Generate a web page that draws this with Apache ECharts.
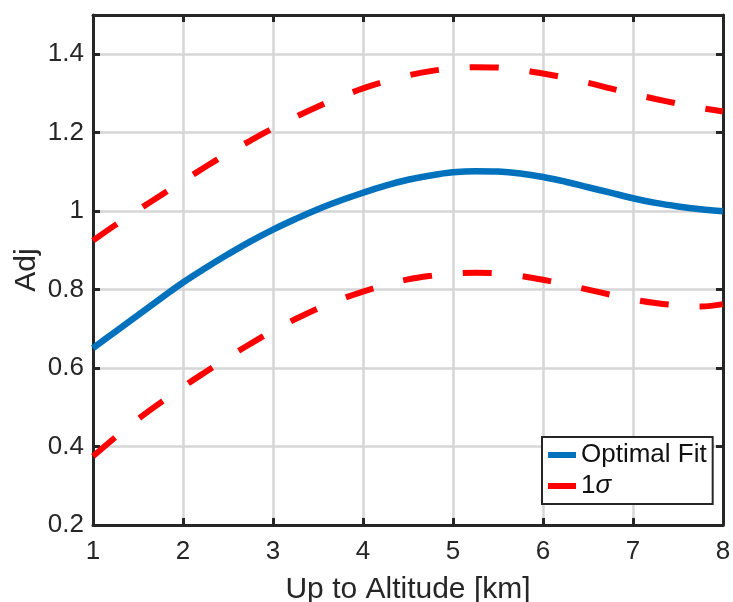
<!DOCTYPE html>
<html>
<head>
<meta charset="utf-8">
<script src="https://cdn.jsdelivr.net/npm/echarts@6/dist/echarts.min.js"></script>
<style>
  html, body { margin: 0; padding: 0; background: #fff; }
  #main { width: 733px; height: 602px; }
</style>
</head>
<body>
<div id="main"></div>
<script>
// altitude (km) and fitted values
var altitude = [1, 1.25, 1.5, 1.75, 2, 2.25, 2.5, 2.75, 3, 3.25, 3.5, 3.75, 4, 4.25, 4.5, 4.75,
                5, 5.25, 5.5, 5.75, 6, 6.25, 6.5, 6.75, 7, 7.25, 7.5, 7.75, 8];
var optimalFit = [0.651, 0.693, 0.735, 0.777, 0.818, 0.855, 0.89, 0.923, 0.953, 0.98, 1.005, 1.027, 1.047, 1.065, 1.08, 1.091,
                  1.099, 1.102, 1.101, 1.096, 1.087, 1.075, 1.061, 1.047, 1.033, 1.021, 1.012, 1.005, 1.0];
var upperSigma = [0.925, 0.965, 1.003, 1.04, 1.077, 1.113, 1.148, 1.18, 1.211, 1.24, 1.267, 1.291, 1.313, 1.331, 1.346, 1.357,
                  1.364, 1.367, 1.366, 1.36, 1.351, 1.34, 1.327, 1.313, 1.299, 1.286, 1.274, 1.263, 1.254];
var lowerSigma = [0.375, 0.424, 0.47, 0.512, 0.552, 0.59, 0.627, 0.662, 0.695, 0.725, 0.752, 0.775, 0.795, 0.812, 0.826, 0.835,
                  0.841, 0.843, 0.842, 0.835, 0.825, 0.813, 0.8, 0.787, 0.775, 0.766, 0.76, 0.757, 0.763];

var FONT = '"Liberation Sans", Arial, Helvetica, sans-serif';
var AXIS_COLOR = '#262626';

function pairs(ys) {
    var out = [];
    for (var i = 0; i < altitude.length; i++) {
        out.push([altitude[i], ys[i]]);
    }
    return out;
}

var boxAxis = {
    axisLine: { show: true, onZero: false, lineStyle: { color: AXIS_COLOR, width: 3 } },
    axisTick: { show: true, inside: true, length: 7, lineStyle: { color: AXIS_COLOR, width: 3 } },
    axisLabel: { show: false },
    splitLine: { show: false }
};

var myChart = echarts.init(document.getElementById('main'));
var option = {
    animation: false,
    backgroundColor: '#fff',
    grid: { left: 93, right: 10, top: 15, bottom: 77, containLabel: false, outerBoundsMode: 'none' },
    xAxis: [{
        type: 'value',
        min: 1, max: 8, interval: 1,
        name: 'Up to Altitude [km]',
        nameLocation: 'middle',
        nameGap: 50,
        nameTextStyle: { fontFamily: FONT, fontSize: 30, color: AXIS_COLOR },
        axisLine: { onZero: false, lineStyle: { color: AXIS_COLOR, width: 3 } },
        axisTick: { inside: true, length: 7, lineStyle: { color: AXIS_COLOR, width: 3 } },
        axisLabel: { fontFamily: FONT, fontSize: 26, color: AXIS_COLOR, margin: 14 },
        splitLine: { show: true, lineStyle: { color: '#d6d6d6', width: 2.5 } }
    }, Object.assign({ type: 'value', position: 'top', min: 1, max: 8, interval: 1 }, boxAxis)],
    yAxis: [{
        type: 'value',
        min: 0.2, max: 1.5, interval: 0.2,
        name: 'Adj',
        nameLocation: 'middle',
        nameGap: 51,
        nameMoveOverlap: false,
        nameTextStyle: { fontFamily: FONT, fontSize: 30, color: AXIS_COLOR },
        axisLine: { show: true, onZero: false, lineStyle: { color: AXIS_COLOR, width: 3 } },
        axisTick: { show: true, inside: true, length: 7, lineStyle: { color: AXIS_COLOR, width: 3 } },
        axisLabel: { fontFamily: FONT, fontSize: 26, color: AXIS_COLOR, margin: 9, showMaxLabel: false },
        splitLine: { show: true, lineStyle: { color: '#d6d6d6', width: 2.5 } }
    }, Object.assign({ type: 'value', position: 'right', min: 0.2, max: 1.5, interval: 0.2 }, boxAxis)],
    legend: {
        orient: 'vertical',
        left: 542,
        top: 437,
        padding: [5, 6],
        itemGap: 5,
        itemWidth: 28,
        itemHeight: 6,
        align: 'left',
        borderColor: AXIS_COLOR,
        borderWidth: 2,
        backgroundColor: '#fff',
        data: [
            { name: 'Optimal Fit', icon: 'rect' },
            { name: '1σ', icon: 'rect' }
        ],
        formatter: function (name) {
            return name === '1σ' ? '1{s|σ}' : name;
        },
        textStyle: {
            fontFamily: FONT, fontSize: 26, color: '#111', lineHeight: 26,
            rich: { s: { fontFamily: FONT, fontSize: 26, fontStyle: 'italic', color: '#111', lineHeight: 26 } }
        }
    },
    series: [
        {
            name: 'Optimal Fit',
            type: 'line',
            smooth: 0.4,
            showSymbol: false,
            color: '#0072BD',
            lineStyle: { color: '#0072BD', width: 6.5 },
            data: pairs(optimalFit),
            z: 3
        },
        {
            name: '1σ',
            type: 'line',
            smooth: 0.4,
            showSymbol: false,
            color: '#FF0000',
            lineStyle: { color: '#FF0000', width: 6, type: [29, 31], cap: 'butt' },
            data: pairs(upperSigma)
        },
        {
            name: '1σ',
            type: 'line',
            smooth: 0.4,
            showSymbol: false,
            color: '#FF0000',
            lineStyle: { color: '#FF0000', width: 6, type: [29, 31], cap: 'butt' },
            data: pairs(lowerSigma)
        }
    ]
};
myChart.setOption(option);
window.onresize = function () {
    myChart.resize();
};
</script>
</body>
</html>
